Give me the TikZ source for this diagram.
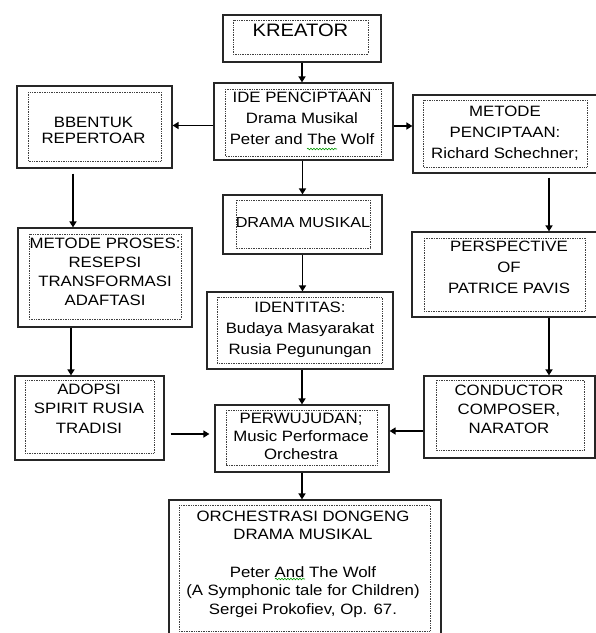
\documentclass[tikz,border=0pt]{standalone}
\usepackage{fontspec}
\setmainfont{Liberation Sans}[FakeStretch=1.12]
\usepackage{tikz}
\usetikzlibrary{arrows.meta,decorations.pathmorphing}

\tikzset{
  outerbox/.style={draw=black!85, line width=1.2pt, inner sep=0pt},
  dotbox/.style={draw=black!75, densely dotted, line width=0.7pt},
  boxtext/.style={align=center, inner sep=0pt, anchor=base, font=\fontsize{15}{21}\selectfont},
  panah/.style={line width=1.8pt, -{Triangle[length=6pt,width=7pt]}},
  spellmark/.style={draw=green!60!black, line width=0.6pt, decorate,
    decoration={snake, amplitude=0.8pt, segment length=3pt}}
}

\begin{document}
\begin{tikzpicture}[x=1pt,y=-1pt]
  \useasboundingbox (0,0) rectangle (596,633);
  \clip (0,0) rectangle (596,633);

  % outer boxes
  \node[outerbox, minimum width=158pt, minimum height=47pt] (kreator) at (302,38.5) {};
  \node[outerbox, minimum width=179pt, minimum height=77pt] (ide) at (303.5,121.5) {};
  \node[outerbox, minimum width=155pt, minimum height=82pt] (bentuk) at (94.5,127) {};
  \node[outerbox, minimum width=192pt, minimum height=78pt] (metode) at (509,134) {};
  \node[outerbox, minimum width=159pt, minimum height=59pt] (drama) at (302.5,224.5) {};
  \node[outerbox, minimum width=174pt, minimum height=99pt] (proses) at (105,277.5) {};
  \node[outerbox, minimum width=193pt, minimum height=85pt] (perspektif) at (508.5,274.5) {};
  \node[outerbox, minimum width=186pt, minimum height=77pt] (identitas) at (300,330.5) {};
  \node[outerbox, minimum width=149pt, minimum height=84pt] (adopsi) at (89.5,418) {};
  \node[outerbox, minimum width=174pt, minimum height=67pt] (perwujudan) at (302,438.5) {};
  \node[outerbox, minimum width=171pt, minimum height=82pt] (konduktor) at (509.5,417) {};
  \node[outerbox, minimum width=272pt, minimum height=160pt] (orkestrasi) at (305,580) {};

  % dotted frames
  \draw[dotbox] (233,20) rectangle (368,54);
  \draw[dotbox] (225,89) rectangle (381,156);
  \draw[dotbox] (28,92) rectangle (161,161);
  \draw[dotbox] (423,100) rectangle (587,167);
  \draw[dotbox] (236,200) rectangle (370,248);
  \draw[dotbox] (29,234) rectangle (181,319);
  \draw[dotbox] (424,238) rectangle (585,311);
  \draw[dotbox] (217,297) rectangle (382,363);
  \draw[dotbox] (25,380) rectangle (154,453);
  \draw[dotbox] (226,410) rectangle (377,465);
  \draw[dotbox] (436,380) rectangle (584.5,450);
  \draw[dotbox] (179,505) rectangle (430,631);

  % texts (base = last line)
  \node[boxtext, font=\fontsize{18}{21}\selectfont] (kreator-t) at (300.5,36) {KREATOR};
  \node[boxtext] (ide-t) at (302,144) {IDE PENCIPTAAN\\Drama Musikal\\Peter and The Wolf};
  \node[boxtext, font=\fontsize{15}{16.5}\selectfont] (bentuk-t) at (93.5,143.5) {BBENTUK\\REPERTOAR};
  \node[boxtext] (metode-t) at (505,158) {METODE\\PENCIPTAAN:\\Richard Schechner;};
  \node[boxtext, font=\fontsize{14.5}{21}\selectfont] (drama-t) at (303,227.5) {DRAMA MUSIKAL};
  \node[boxtext, font=\fontsize{15}{19}\selectfont] (proses-t) at (105,305.5) {METODE PROSES:\\RESEPSI\\TRANSFORMASI\\ADAFTASI};
  \node[boxtext] (perspektif-t) at (509,293) {PERSPECTIVE\\OF\\PATRICE PAVIS};
  \node[boxtext] (identitas-t) at (300,354.5) {IDENTITAS:\\Budaya Masyarakat\\Rusia Pegunungan};
  \node[boxtext, font=\fontsize{15}{19.7}\selectfont] (adopsi-t) at (89,433.4) {ADOPSI\\SPIRIT RUSIA\\TRADISI};
  \node[boxtext, font=\fontsize{15}{18}\selectfont] (perwujudan-t) at (301,459) {PERWUJUDAN;\\Music Performace\\Orchestra};
  \node[boxtext, font=\fontsize{15}{19}\selectfont] (konduktor-t) at (509,433.5) {CONDUCTOR\\COMPOSER,\\NARATOR};
  \node[boxtext, font=\fontsize{15}{18.5}\selectfont] (orkestrasi-t) at (303,614) {ORCHESTRASI DONGENG\\DRAMA MUSIKAL\\[19pt]Peter And The Wolf\\(A Symphonic tale for Children)\\Sergei Prokofiev, Op. 67.};

  % spelling marks
  \draw[spellmark] (307,149) -- (337,149);
  \draw[spellmark] (275,579) -- (305,579);

  % arrows
  \draw[panah] (kreator.south) -- (kreator.south |- ide.north);
  \draw[panah] ([yshift=-4pt]ide.west) -- ([yshift=-4pt]ide.west -| bentuk.east);
  \draw[panah] ([yshift=-4.5pt]ide.east) -- ([yshift=-4.5pt]ide.east -| metode.west);
  \draw[panah] (ide.south -| drama.north) -- (drama.north);
  \draw[panah] (drama.south) -- (drama.south |- identitas.north);
  \draw[panah] (identitas.south -| perwujudan.north) -- (perwujudan.north);
  \draw[panah] (perwujudan.south) -- (perwujudan.south |- orkestrasi.north);
  \draw[panah, shorten <=5pt] ([xshift=-21.5pt]bentuk.south) -- ([xshift=-21.5pt]bentuk.south |- proses.north);
  \draw[panah] ([xshift=-34pt]proses.south) -- ([xshift=-34pt]proses.south |- adopsi.north);
  \draw[panah, shorten <=4pt] ([xshift=40pt]metode.south) -- ([xshift=40pt]metode.south |- perspektif.north);
  \draw[panah] ([xshift=40.5pt]perspektif.south) -- ([xshift=40.5pt]perspektif.south |- konduktor.north);
  \draw[panah, shorten <=6pt, shorten >=5pt] ([yshift=-16pt]adopsi.east) -- ([yshift=-16pt]adopsi.east -| perwujudan.west);
  \draw[panah] ([yshift=-14pt]konduktor.west) -- ([yshift=-14pt]konduktor.west -| perwujudan.east);
\end{tikzpicture}
\end{document}
